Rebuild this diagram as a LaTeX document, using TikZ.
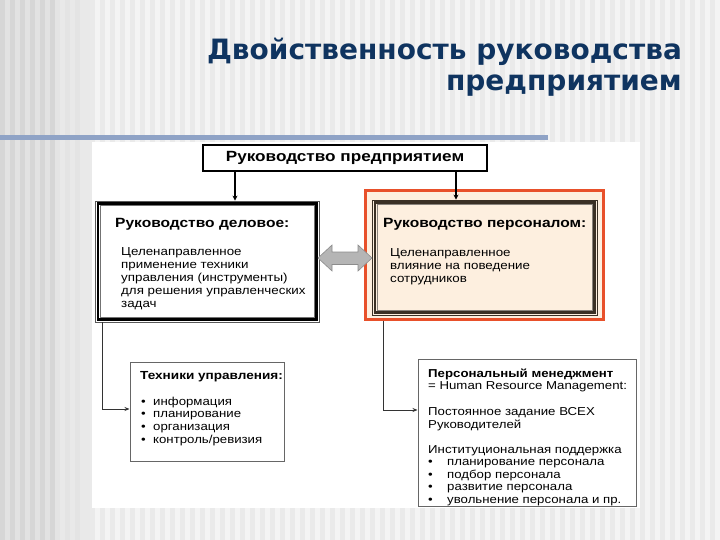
\documentclass[tikz,border=0pt]{standalone}
\usepackage{fontspec}
\setmainfont{Liberation Sans}
\newfontfamily\titlefont{DejaVu Sans}
\newfontfamily\dfont[FakeStretch=1.15]{Liberation Sans}
\newfontfamily\hfont[FakeStretch=1.16]{Liberation Sans}
\usetikzlibrary{arrows.meta,calc}
\definecolor{bgbase}{HTML}{F4F4F4}
\definecolor{bgstripe}{HTML}{EAEAEA}
\definecolor{bgdark}{HTML}{E2E2E2}
\definecolor{bgdarkstripe}{HTML}{D6D6D6}
\definecolor{titleblue}{HTML}{0F3460}
\definecolor{barblue}{HTML}{8FA3C6}
\definecolor{orangeb}{HTML}{E8502A}
\definecolor{peach}{HTML}{FDEFDF}
\definecolor{darkbrown}{HTML}{3A3025}
\definecolor{arrgray}{HTML}{B5B5B5}
\tikzset{
  boxtext/.style={inner sep=0pt, text=black, align=left},
  bodytext/.style={boxtext, font=\dfont\fontsize{11.6}{13}\selectfont},
  headtext/.style={boxtext, font=\hfont\bfseries\fontsize{13.4}{15}\selectfont},
  smallhead/.style={boxtext, font=\hfont\bfseries\fontsize{11.7}{13}\selectfont},
  listtext/.style={boxtext, font=\dfont\fontsize{11.5}{12.8}\selectfont},
  toparrow/.style={line width=1.8pt, -{Stealth[length=5pt,width=5pt]}},
  thinarrow/.style={line width=0.8pt, draw=black!80, -{Stealth[length=5pt,width=4pt]}},
}
\newcommand{\bul}{\makebox[12pt][l]{•}}
\begin{document}
\begin{tikzpicture}[x=1pt,y=-1pt]
\useasboundingbox (0,0) rectangle (720,540);
% background
\fill[bgbase] (0,0) rectangle (720,540);
\foreach \i in {0,...,71} \fill[bgstripe] (\i*10,0) rectangle ++(5,540);
\fill[bgdark] (0,0) rectangle (55,540);
\foreach \i in {0,...,5} \fill[bgdarkstripe] (\i*10,0) rectangle ++(5,540);
\fill[bgdark!60!bgbase] (55,0) rectangle (90,540);
\foreach \i in {6,...,8} \fill[bgstripe!80!black!12!bgstripe] (\i*10-5,0) rectangle ++(5,540);
% title
\node[anchor=base east, inner sep=0pt, text=titleblue,
      font=\titlefont\bfseries\fontsize{28}{31}\selectfont] (t1) at (682,60) {Двойственность руководства};
\node[anchor=base east, inner sep=0pt, text=titleblue,
      font=\titlefont\bfseries\fontsize{28}{31}\selectfont] (t2) at (682,91) {предприятием};
% bar
\fill[barblue] (0,135) rectangle (548,140.5);
% white panel
\fill[white] (92,142) rectangle (640,508);

% top box
\node[draw=black, line width=2pt, fill=white, minimum width=284, minimum height=26, inner sep=0pt,
      font=\hfont\bfseries\fontsize{14.8}{16}\selectfont] (top) at (345,158) {Руководство предприятием};

% left box
\node[draw=black!65, line width=0.8pt, fill=white, minimum width=224, minimum height=121, inner sep=0pt] (lb) at (207,261.5) {};
\draw[black, line width=2.2pt] ([shift={(3,3)}]lb.north west) rectangle ([shift={(-3,-3)}]lb.south east);
\draw[black!55, line width=0.6pt] ([shift={(5.2,5.2)}]lb.north west) rectangle ([shift={(-5.2,-5.2)}]lb.south east);
\node[headtext, anchor=west] (lbh) at (115,224.5) {Руководство деловое:};
\node[bodytext, anchor=north west] (lbt) at (121,247.5) {Целенаправленное\\применение техники\\управления (инструменты)\\для решения управленческих\\задач};

% right box
\node[draw=orangeb, line width=2.6pt, fill=peach, minimum width=238, minimum height=129, inner sep=0pt] (ro) at (484.5,255) {};
\node[draw=darkbrown, line width=0.8pt, fill=peach, minimum width=225, minimum height=115, inner sep=0pt] (rb) at (484.5,257.5) {};
\draw[darkbrown, line width=2.2pt] ([shift={(3,3)}]rb.north west) rectangle ([shift={(-3,-3)}]rb.south east);
\draw[darkbrown!60, line width=0.6pt] ([shift={(5.2,5.2)}]rb.north west) rectangle ([shift={(-5.2,-5.2)}]rb.south east);
\node[headtext, anchor=west] (rbh) at (383,224.5) {Руководство персоналом:};
\node[bodytext, anchor=north west] (rbt) at (390,248.5) {Целенаправленное\\влияние на поведение\\сотрудников};

% double block arrow between the boxes
\fill[arrgray, draw=black!45, line width=0.6pt]
  (318,258) -- (332,245) -- (332,252) -- (358,252) -- (358,245) -- (372,258)
  -- (358,271) -- (358,264.5) -- (332,264.5) -- (332,271) -- cycle;

% bottom left box
\node[draw=black!60, line width=1pt, fill=white, minimum width=154, minimum height=99, inner sep=0pt] (bl) at (207,411.5) {};
\node[smallhead, anchor=west] (blh) at (140,376.5) {Техники управления:};
\node[listtext, anchor=north west] (blt) at (141,396.5) {\bul информация\\\bul планирование\\\bul организация\\\bul контроль/ревизия};

% bottom right box
\node[draw=black!60, line width=1pt, fill=white, minimum width=218, minimum height=147, inner sep=0pt] (br) at (527,432.5) {};
\node[bodytext, anchor=north west, font=\dfont\fontsize{11.5}{12.3}\selectfont] (brt1) at (428,368.5) {\textbf{Персональный менеджмент}\\= Human Resource Management:};
\node[bodytext, anchor=north west, font=\dfont\fontsize{11.5}{12.3}\selectfont] (brt2) at (428,407.5) {Постоянное задание ВСЕХ\\Руководителей};
\node[bodytext, anchor=north west, font=\dfont\fontsize{11.5}{12.5}\selectfont] (brt3) at (428,445) {Институциональная поддержка\\\bul\hspace{7pt}планирование персонала\\\bul\hspace{7pt}подбор персонала\\\bul\hspace{7pt}развитие персонала\\\bul\hspace{7pt}увольнение персонала и пр.};

% connectors
\coordinate (c1) at (235,0);
\coordinate (c2) at (456,0);
\coordinate (c3) at (102,0);
\coordinate (c4) at (383,0);
\coordinate (h1) at (0,409);
\coordinate (h2) at (0,410);
\draw[toparrow] (top.south -| c1) -- (lb.north -| c1);
\draw[toparrow] (top.south -| c2) -- (rb.north -| c2);
\draw[thinarrow] (lb.south -| c3) -- (c3 |- h1) -- (bl.west |- h1);
\draw[thinarrow] (ro.south -| c4) -- (c4 |- h2) -- (br.west |- h2);
\end{tikzpicture}
\end{document}
